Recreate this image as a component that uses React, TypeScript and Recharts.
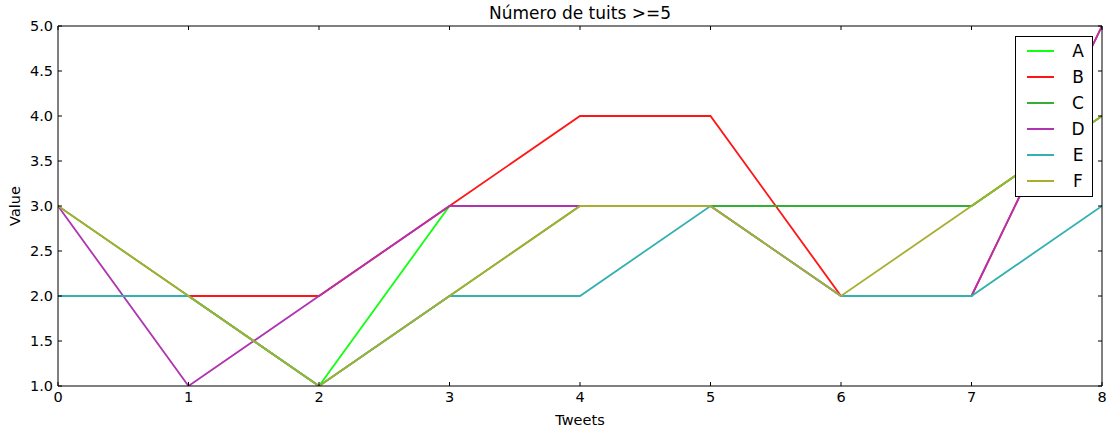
import React from 'react';
import { LineChart, Line, XAxis, YAxis } from 'recharts';

// Tweet index along the x axis
const tweets = [0, 1, 2, 3, 4, 5, 6, 7, 8];

// Values per series
const seriesA = [2, 2, 1, 3, 3, 3, 3, 3, 4];
const seriesB = [2, 2, 2, 3, 4, 4, 2, 2, 5];
const seriesC = [3, 2, 1, 2, 3, 3, 3, 3, 4];
const seriesD = [3, 1, 2, 3, 3, 3, 2, 2, 5];
const seriesE = [2, 2, 1, 2, 2, 3, 2, 2, 3];
const seriesF = [3, 2, 1, 2, 3, 3, 2, 3, 4];

const seriesNames = ['A', 'B', 'C', 'D', 'E', 'F'];
const seriesColors = ['#11ff11', '#ff1515', '#33b033', '#b033b0', '#33b0b0', '#a8ae30'];
const seriesValues = [seriesA, seriesB, seriesC, seriesD, seriesE, seriesF];

const xTicks = [0, 1, 2, 3, 4, 5, 6, 7, 8];
const yTicks = [1.0, 1.5, 2.0, 2.5, 3.0, 3.5, 4.0, 4.5, 5.0];

const data = tweets.map((t, i) => {
  const row: Record<string, number> = { x: t };
  seriesNames.forEach((n, k) => {
    row[n] = seriesValues[k][i];
  });
  return row;
});

const FONT = '"DejaVu Sans", sans-serif';
const TICK_LEN = 4;

const BottomTick = (props: any) => {
  const { x, y, payload } = props;
  return (
    <g>
      <line x1={x} y1={y} x2={x} y2={y - TICK_LEN} stroke="#000" strokeWidth={1} />
      <text x={x} y={y + 16} textAnchor="middle" fontFamily={FONT} fontSize={14.5} fill="#000">
        {payload.value}
      </text>
    </g>
  );
};

const TopTick = (props: any) => {
  const { x, y } = props;
  return <line x1={x} y1={y} x2={x} y2={y + TICK_LEN} stroke="#000" strokeWidth={1} />;
};

const LeftTick = (props: any) => {
  const { x, y, payload } = props;
  return (
    <g>
      <line x1={x} y1={y} x2={x + TICK_LEN} y2={y} stroke="#000" strokeWidth={1} />
      <text x={x - 5} y={y + 5} textAnchor="end" fontFamily={FONT} fontSize={14.5} fill="#000">
        {Number(payload.value).toFixed(1)}
      </text>
    </g>
  );
};

const RightTick = (props: any) => {
  const { x, y } = props;
  return <line x1={x} y1={y} x2={x - TICK_LEN} y2={y} stroke="#000" strokeWidth={1} />;
};

// Legend box drawn over the top-right corner of the plot
const LegendBox = () => (
  <div
    style={{
      position: 'absolute',
      left: 1015,
      top: 36,
      width: 76,
      height: 159,
      border: '1px solid #000',
      background: '#fff',
      fontFamily: FONT,
    }}
  >
    {seriesNames.map((n, i) => (
      <div
        key={n}
        style={{
          position: 'absolute',
          left: 0,
          top: 3 + i * 26,
          height: 22,
          width: 76,
        }}
      >
        <div
          style={{
            position: 'absolute',
            left: 11,
            top: 10,
            width: 27,
            height: 2,
            background: seriesColors[i],
          }}
        />
        <div
          style={{
            position: 'absolute',
            left: 52,
            top: 0,
            width: 20,
            textAlign: 'center',
            fontSize: 17,
            lineHeight: '22px',
            color: '#000',
          }}
        >
          {n}
        </div>
      </div>
    ))}
  </div>
);

export default function App() {
  return (
    <div style={{ position: 'absolute', left: 0, top: 0, width: 1106, height: 429, background: '#fff' }}>
      <LineChart
        width={1106}
        height={429}
        data={data}
        margin={{ top: 0, right: 0, bottom: 0, left: 0 }}
      >
        <XAxis
          xAxisId="bottom"
          dataKey="x"
          type="number"
          domain={[0, 8]}
          ticks={xTicks}
          orientation="bottom"
          height={43}
          tickSize={0}
          tickMargin={0}
          tickLine={false}
          tick={<BottomTick />}
          axisLine={{ stroke: '#000', strokeWidth: 1 }}
          interval={0}
          allowDataOverflow
        />
        <XAxis
          xAxisId="top"
          dataKey="x"
          type="number"
          domain={[0, 8]}
          ticks={xTicks}
          orientation="top"
          height={26}
          tickSize={0}
          tickMargin={0}
          tickLine={false}
          tick={<TopTick />}
          axisLine={{ stroke: '#000', strokeWidth: 1 }}
          interval={0}
          allowDataOverflow
        />
        <YAxis
          yAxisId="left"
          type="number"
          domain={[1, 5]}
          ticks={yTicks}
          orientation="left"
          width={58}
          tickSize={0}
          tickMargin={0}
          tickLine={false}
          tick={<LeftTick />}
          axisLine={{ stroke: '#000', strokeWidth: 1 }}
          interval={0}
          allowDataOverflow
        />
        <YAxis
          yAxisId="right"
          type="number"
          domain={[1, 5]}
          ticks={yTicks}
          orientation="right"
          width={4}
          tickSize={0}
          tickMargin={0}
          tickLine={false}
          tick={<RightTick />}
          axisLine={{ stroke: '#000', strokeWidth: 1 }}
          interval={0}
          allowDataOverflow
        />
        {seriesNames.map((n, i) => (
          <Line
            key={n}
            xAxisId="bottom"
            yAxisId="left"
            type="linear"
            dataKey={n}
            name={n}
            stroke={seriesColors[i]}
            strokeWidth={1.8}
            dot={false}
            activeDot={false}
            isAnimationActive={false}
          />
        ))}
      </LineChart>
      <div
        style={{
          position: 'absolute',
          left: 58,
          width: 1044,
          top: 2,
          textAlign: 'center',
          fontFamily: FONT,
          fontSize: 17,
          color: '#000',
          lineHeight: '22px',
        }}
      >
        Número de tuits &gt;=5
      </div>
      <div
        style={{
          position: 'absolute',
          left: 58,
          width: 1044,
          top: 411,
          textAlign: 'center',
          fontFamily: FONT,
          fontSize: 14.5,
          color: '#000',
          lineHeight: '18px',
        }}
      >
        Tweets
      </div>
      <div
        style={{
          position: 'absolute',
          left: 15,
          top: 206,
          transform: 'translate(-50%, -50%) rotate(-90deg)',
          fontFamily: FONT,
          fontSize: 14.5,
          color: '#000',
          lineHeight: '18px',
          whiteSpace: 'nowrap',
        }}
      >
        Value
      </div>
      <LegendBox />
    </div>
  );
}
